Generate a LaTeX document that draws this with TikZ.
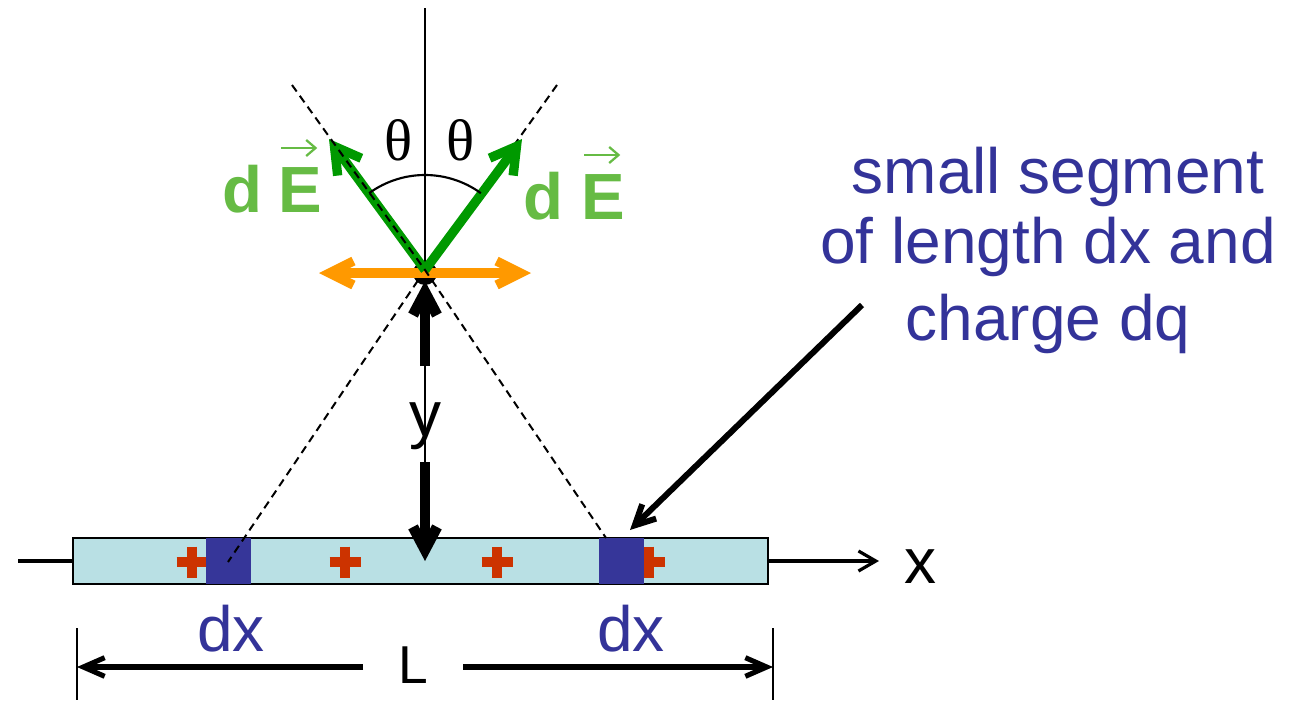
\documentclass[tikz,border=0pt]{standalone}
\usepackage{fontspec}
\setmainfont{Liberation Sans}
\newfontfamily\greekserif{Liberation Serif}
\usetikzlibrary{arrows.meta}
\definecolor{barfill}{HTML}{B9E0E4}
\definecolor{segblue}{HTML}{363699}
\definecolor{txtblue}{HTML}{333399}
\definecolor{plusred}{HTML}{CC3300}
\definecolor{vecgreen}{HTML}{009900}
\definecolor{lblgreen}{HTML}{66BB44}
\definecolor{fieldorange}{HTML}{FF9900}
\tikzset{
  thinline/.style={line width=1.6pt},
  dashline/.style={line width=1.5pt, dash pattern=on 6pt off 4pt},
  greenvec/.style={line width=7pt, vecgreen, -{Straight Barb[length=19pt,width=22pt]}},
  orangevec/.style={line width=7pt, fieldorange, {Straight Barb[length=18pt,width=18pt]}-{Straight Barb[length=18pt,width=18pt]}},
  yarrow/.style={line width=8pt, -{Straight Barb[length=17pt,width=18pt]}},
  pointer/.style={line width=4.5pt, -{Straight Barb[length=15pt,width=15pt]}},
  dimarrow/.style={line width=3.8pt, -{Straight Barb[length=16pt,width=14pt]}},
  axisarrow/.style={line width=2.4pt, -{Straight Barb[length=13pt,width=15pt]}},
  plussign/.style={plusred, line width=7pt},
  bigtext/.style={inner sep=0pt, anchor=base, font=\fontsize{48}{58}\selectfont},
  bluetext/.style={bigtext, txtblue},
  greentext/.style={inner sep=0pt, anchor=base, lblgreen, font=\fontsize{49}{58}\selectfont\bfseries},
  thetatext/.style={inner sep=0pt, anchor=base, font=\fontsize{44}{52}\greekserif},
  vecmark/.style={lblgreen, line width=1.7pt, -{Straight Barb[length=7pt,width=12pt]}},
}
\begin{document}
\begin{tikzpicture}[x=0.75pt,y=-0.75pt]
\useasboundingbox (0,0) rectangle (1293,703);
% key points
\coordinate (P) at (425,270);
\coordinate (top) at (425,8);
\coordinate (axisbot) at (425,555);
\coordinate (tl) at (292,85);
\coordinate (tr) at (557,85);
\coordinate (bl) at (228,562);
\coordinate (br) at (606,538);
\coordinate (gl) at (329,139);
\coordinate (gr) at (522,139);
\coordinate (ol) at (319,273);
\coordinate (or) at (531,273);
% vertical axis
\draw[thinline] (top) -- (axisbot);
% rod
\draw[line width=2.4pt] (18,561) -- (73,561);
\draw[axisarrow] (768,561) -- (879,561);
\node[bigtext] (xlab) at (920,583) {x};
\draw[line width=2pt, fill=barfill] (73,538) rectangle (768,584);
\foreach \px in {192,345,497,649}
  \draw[plussign] (\px-15.5,562) -- (\px+15.5,562) (\px,546.5) -- (\px,577.5);
\fill[segblue] (206,538) rectangle (251,584);
\fill[segblue] (599,538) rectangle (644,584);
% dashed lines
\draw[dashline] (tr) -- (P) -- (bl);
% dot, field vectors
\fill (P) ++(0,3) circle[radius=9pt];
\draw[orangevec] (ol) -- (or);
\draw[greenvec] (P) -- (gl);
\draw[greenvec] (P) -- (gr);
\draw[dashline] (tl) -- (P) -- (br);
% angle arc
\draw[line width=1.6pt] plot[domain=-126:-54, samples=40] ({425+95*cos(\x)}, {270+95*sin(\x)});
\node[thetatext] (th1) at (399,160) {θ};
\node[thetatext] (th2) at (461,160) {θ};
% dE labels
\node[greentext] (dl) at (242,212) {d};
\node[greentext] (El) at (300,212) {E};
\draw[vecmark] ([yshift=48pt]El.base west) ++(2.5pt,0) -- ++(27pt,0);
\node[greentext] (dr) at (543,219) {d};
\node[greentext] (Er) at (603,219) {E};
\draw[vecmark] ([yshift=48pt]Er.base west) ++(2.5pt,0) -- ++(27pt,0);
% y distance
\node[bigtext] (ylab) at (425,436) {y};
\coordinate (yup) at (425,366);
\coordinate (ydown) at (425,462);
\coordinate (ytip) at (425,281);
\coordinate (rodtip) at (425,561);
\draw[yarrow] (yup) -- (ytip);
\draw[yarrow] (ydown) -- (rodtip);
% dx labels
\node[bluetext] (dx1) at (231,651) {dx};
\node[bluetext] (dx2) at (631,651) {dx};
% length L
\draw[line width=1.4pt] (77,628) -- (77,700);
\draw[line width=1.4pt] (773,628) -- (773,700);
\coordinate (Lleft) at (77,667);
\coordinate (Lright) at (773,667);
\coordinate (Lm1) at (363,667);
\coordinate (Lm2) at (463,667);
\draw[dimarrow] (Lm1) -- (Lleft);
\draw[dimarrow] (Lm2) -- (Lright);
\node[inner sep=0pt, anchor=base, font=\fontsize{40}{48}\selectfont] (Llab) at (413,683) {L};
% description
\node[bluetext] (seg1) at (1058,193) {small segment};
\node[bluetext] (seg2) at (1048,263) {of length dx and};
\node[bluetext] (seg3) at (1048,340) {charge dq};
\coordinate (ptrstart) at (862,305);
\coordinate (ptrtip) at (630,530);
\draw[pointer] (ptrstart) -- (ptrtip);
\end{tikzpicture}
\end{document}
